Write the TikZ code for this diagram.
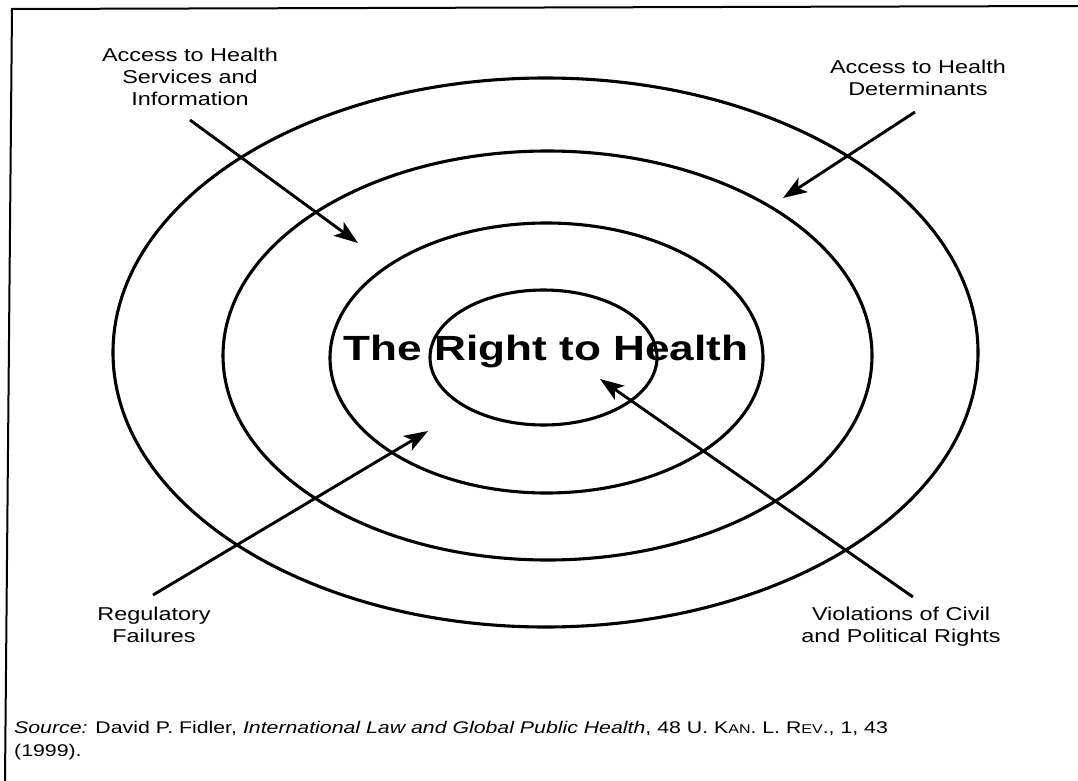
\documentclass[tikz,border=0pt]{standalone}
\usepackage{fontspec}
\setmainfont{Liberation Sans}[FakeStretch=1.26]
\usetikzlibrary{arrows.meta}
\newcommand\fakesc[1]{{\fontsize{12.7pt}{12.7pt}\selectfont #1}}
\begin{document}
\begin{tikzpicture}[x=1pt,y=-1pt,
  ring/.style={line width=3.1pt},
  pointer/.style={line width=2.9pt,-{Stealth[length=24pt,width=17pt,inset=6pt]}},
  lbl/.style={font=\fontsize{18.6pt}{22pt}\selectfont, align=center, inner sep=0pt, anchor=base},
  frameline/.style={line width=2pt}]
\useasboundingbox[fill=white] (0,0) rectangle (1078,781);
% frame
\coordinate (tl) at (12,9);
\coordinate (tr) at (1078,6);
\coordinate (bl) at (5,781);
\draw[frameline] (tr) -- (tl) -- (bl);
% rings
\coordinate (c1) at (545.5,352.5);
\coordinate (c2) at (547.5,355.5);
\coordinate (c3) at (546.5,358);
\coordinate (c4) at (543.5,357.5);
\draw[ring] (c1) ellipse [x radius=432.5, y radius=274.5];
\draw[ring] (c2) ellipse [x radius=324.5, y radius=204.5];
\draw[ring] (c3) ellipse [x radius=216.5, y radius=135];
\draw[ring] (c4) ellipse [x radius=113.5, y radius=67.5];
% title
\node[font=\bfseries\fontsize{35pt}{40pt}\selectfont, anchor=base, inner sep=0pt] (title) at (546,360) {The Right to Health};
% labels (anchor at baseline of last line)
\node[lbl] (lserv) at (190,106) {Access to Health\\Services and\\Information};
\node[lbl] (ldet) at (918,96) {Access to Health\\Determinants};
\node[lbl] (lreg) at (154,642) {Regulatory\\Failures};
\node[lbl] (lviol) at (901,642) {Violations of Civil\\and Political Rights};
% arrows
\coordinate (a1s) at (190,120);
\coordinate (a1t) at (358,243);
\coordinate (a2s) at (915,112);
\coordinate (a2t) at (783,198);
\coordinate (a3s) at (153,595);
\coordinate (a3t) at (428,431);
\coordinate (a4s) at (913,597);
\coordinate (a4t) at (600,379);
\draw[pointer] (a1s) -- (a1t);
\draw[pointer] (a2s) -- (a2t);
\draw[pointer] (a3s) -- (a3t);
\draw[pointer] (a4s) -- (a4t);
% source
\node[anchor=base west, font=\fontsize{16.9pt}{23pt}\selectfont, align=left, inner sep=0pt] (src) at (14,756)
  {\textit{Source:} David P. Fidler, \textit{International Law and Global Public Health}, 48 U. K\fakesc{AN}. L. R\fakesc{EV}., 1, 43\\(1999).};
\end{tikzpicture}
\end{document}
